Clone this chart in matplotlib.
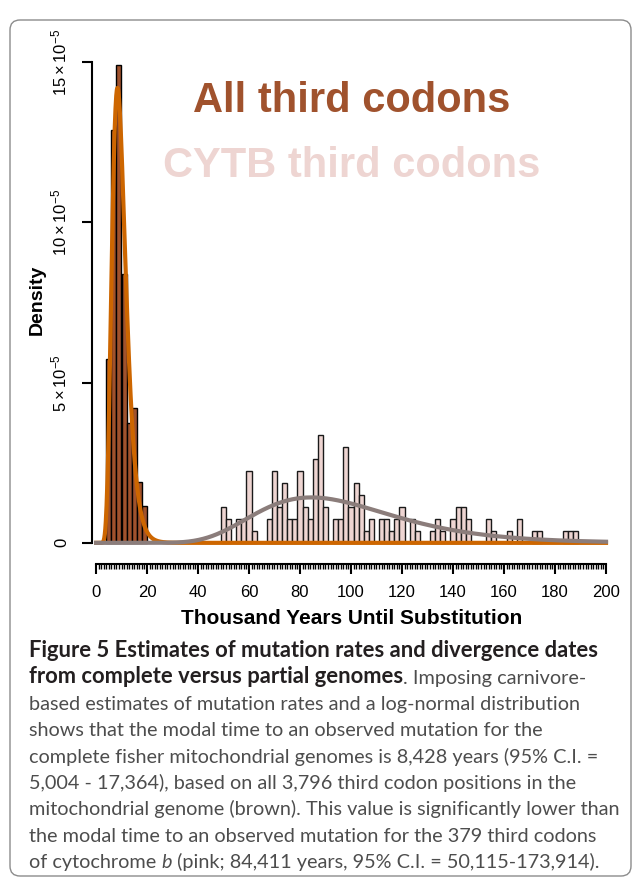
import numpy as np
import matplotlib
matplotlib.use('Agg')
import matplotlib.pyplot as plt
from matplotlib.patches import FancyBboxPatch
from matplotlib.transforms import IdentityTransform

plt.rcParams['font.family'] = ['Liberation Sans', 'DejaVu Sans']
plt.rcParams['mathtext.fontset'] = 'custom'
plt.rcParams['mathtext.rm'] = 'Liberation Sans'
plt.rcParams['mathtext.it'] = 'Liberation Sans:italic'

# histograms, bin width 2 (thousand years), density in units of 1e-5
bin_w = 2
all_left = [4, 6, 8, 10, 12, 14, 16, 18]
all_dens = [5.73, 12.9, 14.9, 8.4, 3.73, 4.2, 1.9, 1.15]

cytb_left = [49, 51, 55, 57, 59, 61, 67, 69, 71, 73, 75, 77, 79, 81, 83, 85, 87, 89,
             93, 95, 97, 99, 101, 103, 105, 107, 111, 113, 115, 117, 119, 123, 125,
             131, 133, 135, 139, 141, 143, 145, 153, 155, 161, 165, 171, 173,
             183, 185, 187]
cytb_dens = [1.12, 0.75, 0.75, 0.75, 2.25, 0.37, 0.75, 2.25, 1.12, 1.87, 0.75, 0.75,
             2.25, 1.12, 0.75, 2.62, 3.38, 1.12, 0.75, 0.75, 3.0, 1.12, 1.87, 1.5,
             0.37, 0.75, 0.75, 0.75, 0.37, 0.75, 1.12, 0.75, 0.37, 0.37, 0.75, 0.37,
             0.75, 1.12, 1.12, 0.75, 0.75, 0.37, 0.37, 0.75, 0.37, 0.37, 0.37, 0.37,
             0.37]

# log-normal fits (in years): meanlog, sdlog
all_mu, all_sd = 9.14, 0.317
cytb_mu, cytb_sd = 11.444, 0.317

xticks = list(range(0, 201, 20))
yticks = [0, 5, 10, 15]
ytick_labels = ['0', r'$5\times10^{-5}$', r'$10\times10^{-5}$', r'$15\times10^{-5}$']

caption = [
    [("Figure 5 Estimates of mutation rates and divergence dates", 'bold')],
    [("from complete versus partial genomes", 'bold'), (". Imposing carnivore-", 'normal')],
    [("based estimates of mutation rates and a log-normal distribution", 'normal')],
    [("shows that the modal time to an observed mutation for the", 'normal')],
    [("complete fisher mitochondrial genomes is 8,428 years (95% C.I. =", 'normal')],
    [("5,004 - 17,364), based on all 3,796 third codon positions in the", 'normal')],
    [("mitochondrial genome (brown). This value is significantly lower than", 'normal')],
    [("the modal time to an observed mutation for the 379 third codons", 'normal')],
    [("of cytochrome ", 'normal'), ("b", 'italic'), (" (pink; 84,411 years, 95% C.I. = 50,115-173,914).", 'normal')],
]


def dlnorm(xk, mu, sd):
    x = xk * 1000.0
    return np.exp(-(np.log(x) - mu) ** 2 / (2 * sd * sd)) / (x * sd * np.sqrt(2 * np.pi)) * 1e5


W, H = 637, 881
fig = plt.figure(figsize=(W / 100, H / 100), dpi=100)
ax = fig.add_axes([88.35 / W, 1 - 564 / H, 525.3 / W, 511.4 / H])
ax.set_xlim(-3, 203)
ax.set_ylim(-0.66, 15.3)

ax.bar(all_left, all_dens, width=bin_w, align='edge', color='#A0522D',
       edgecolor='black', linewidth=1)
ax.bar(cytb_left, cytb_dens, width=bin_w, align='edge', color='#EED5D2',
       edgecolor='#1a1a1a', linewidth=1)

xs = np.linspace(0.05, 200, 2000)
ax.plot(xs, dlnorm(xs, all_mu, all_sd), color='#CD6600', lw=3)
ax.plot(xs, dlnorm(xs, cytb_mu, cytb_sd), color='#8B7D7B', lw=3)

ax.text(100.4, 13.45, 'All third codons', ha='center', va='baseline',
        fontsize=30, fontweight='bold', color='#A0522D')
ax.text(100.4, 11.42, 'CYTB third codons', ha='center', va='baseline',
        fontsize=30, fontweight='bold', color='#EED5D2')

for s in ['top', 'right']:
    ax.spines[s].set_visible(False)
ax.spines['left'].set_position(('data', -1.6))
ax.spines['left'].set_bounds(0, 15)
ax.spines['bottom'].set_bounds(0, 200)
for s in ['left', 'bottom']:
    ax.spines[s].set_linewidth(1.5)

ax.set_xticks(xticks)
ax.set_xticks(np.arange(0, 201, 1), minor=True)
ax.set_yticks(yticks, ytick_labels)
ax.tick_params(axis='x', which='major', length=7, width=1.5, labelsize=12, pad=8)
ax.tick_params(axis='x', which='minor', length=3.5, width=1)
ax.tick_params(axis='y', length=7, width=1.5, labelsize=12, pad=9, labelrotation=90)
for lab in ax.get_yticklabels():
    lab.set_va('center')

fig.text(352 / W, 1 - 618 / H, 'Thousand Years Until Substitution', ha='center',
         va='center', fontsize=15, fontweight='bold')
fig.text(37 / W, 1 - 300 / H, 'Density', rotation=90, ha='center', va='center',
         fontsize=14, fontweight='bold')

# caption
cap_font = 'Lato'
renderer = fig.canvas.get_renderer()


def width_at(txt, weight, size):
    t = fig.text(0, 0, txt, family=cap_font, fontweight=weight, fontsize=size)
    w = t.get_window_extent(renderer=renderer).width
    t.remove()
    return w


# fit sizes so that line widths roughly match the reference (pixels)
bold_lines = [caption[0][0][0], caption[1][0][0]]
bold_px = [591, 355]
reg_lines = [caption[k][0][0] for k in range(2, 8)]
reg_px = [556, 524, 555, 543, 591, 587]
size_bold = 10 * sum(bold_px) / sum(width_at(t, 'bold', 10) for t in bold_lines)
size_reg = 10 * sum(reg_px) / sum(width_at(t, 'normal', 10) for t in reg_lines)

for i, parts in enumerate(caption):
    yb = 1 - (657 + 26.4 * i) / H
    prev = None
    for txt, kind in parts:
        kw = dict(family=cap_font, va='baseline', ha='left')
        if kind == 'bold':
            kw.update(fontweight='bold', color='#231F20', fontsize=size_bold)
        elif kind == 'italic':
            kw.update(style='italic', color='#4D4D4D', fontsize=size_reg)
        else:
            kw.update(color='#4D4D4D', fontsize=size_reg)
        if prev is None:
            prev = fig.text(29 / W, yb, txt, **kw)
        else:
            kw['va'] = 'bottom'
            prev = ax.annotate(txt, xy=(1, 0), xycoords=prev, annotation_clip=False, **kw)

fig.patches.append(FancyBboxPatch((10, H - 876), 621, 856,
                                  boxstyle='round,pad=0,rounding_size=10',
                                  transform=IdentityTransform(), fill=False,
                                  ec='#8c8c8c', lw=1))

fig.savefig('out.png', dpi=100)
